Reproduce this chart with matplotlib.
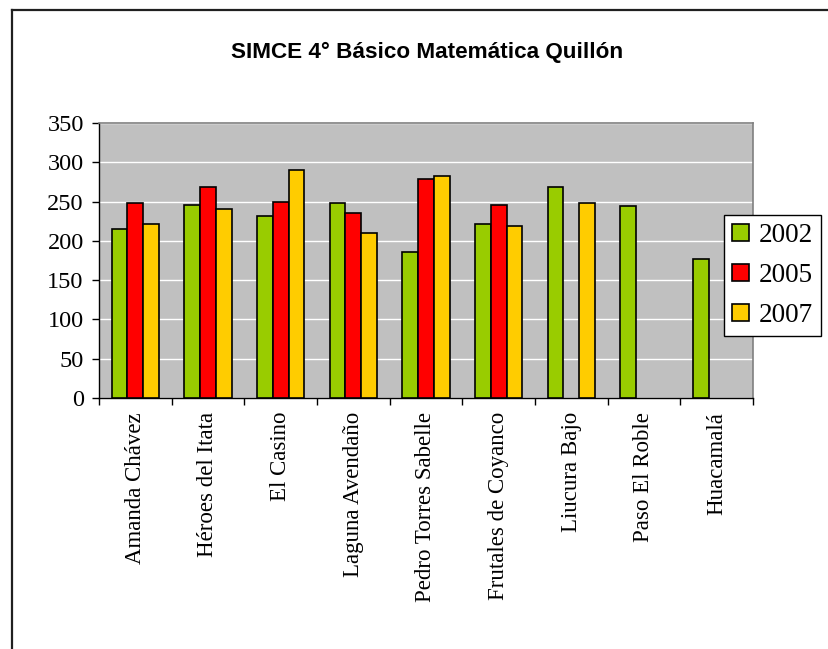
import numpy as np
import matplotlib
matplotlib.use("Agg")
import matplotlib.pyplot as plt
from matplotlib.lines import Line2D

# Data
schools = ["Amanda Chávez", "Héroes del Itata", "El Casino", "Laguna Avendaño",
           "Pedro Torres Sabelle", "Frutales de Coyanco", "Liucura Bajo",
           "Paso El Roble", "Huacamalá"]
years = ["2002", "2005", "2007"]
v2002 = [215, 246, 232, 248, 186, 221, 268, 244, 177]
v2005 = [248, 268, 250, 235, 279, 246, np.nan, np.nan, np.nan]
v2007 = [221, 240, 290, 210, 282, 219, 248, np.nan, np.nan]
yticks = [0, 50, 100, 150, 200, 250, 300, 350]

colors = ["#99CC00", "#FF0000", "#FFCC00"]

W, H = 829, 649
fig = plt.figure(figsize=(W / 100, H / 100), dpi=100)

# chart border: only left and top edges are visible in the crop
fig.lines.append(Line2D([12 / W, 12 / W], [0, 1 - 10 / H], transform=fig.transFigure,
                        color="#202020", linewidth=1.6))
fig.lines.append(Line2D([12 / W, 1], [1 - 10 / H, 1 - 10 / H], transform=fig.transFigure,
                        color="#202020", linewidth=1.6))

left, right, top, bottom = 99, 753, 123, 398
ax = fig.add_axes([left / W, 1 - bottom / H, (right - left) / W, (bottom - top) / H])
ax.set_facecolor("#C0C0C0")

x = np.arange(len(schools))
bw = 0.217
for i, (vals, c, yr) in enumerate(zip([v2002, v2005, v2007], colors, years)):
    ax.bar(x + (i - 1) * bw, vals, width=bw, color=c, edgecolor="black",
           linewidth=1.2, label=yr, zorder=3)

ax.set_xlim(-0.5, len(schools) - 0.5)
ax.set_ylim(0, 350)
ax.set_yticks(yticks)
ax.yaxis.grid(True, color="white", linewidth=1.0, zorder=1)
ax.set_axisbelow(True)

serif = ["Liberation Serif", "DejaVu Serif"]
ax.set_yticklabels([str(t) for t in yticks], fontsize=17.5, family=serif)
ax.tick_params(axis="y", length=5, width=1, pad=6)

# category labels (rotated), tick marks at category boundaries
ax.set_xticks(x)
ax.set_xticklabels(schools, rotation=90, fontsize=16.5, family=serif)
ax.tick_params(axis="x", length=0, pad=10)
ax.set_xticks(np.arange(len(schools) + 1) - 0.5, minor=True)
ax.tick_params(axis="x", which="minor", length=5, width=1)

for s in ["top", "right"]:
    ax.spines[s].set_color("#808080")
    ax.spines[s].set_linewidth(1.2)
for s in ["left", "bottom"]:
    ax.spines[s].set_color("black")
    ax.spines[s].set_linewidth(1.0)

fig.text(427 / W, 1 - 52 / H, "SIMCE 4° Básico Matemática Quillón",
         ha="center", va="center", fontsize=16.2, fontweight="bold",
         family=["Liberation Sans", "DejaVu Sans"])

leg = fig.legend(loc="upper left", bbox_to_anchor=(724 / W, 1 - 215 / H),
                 prop={"family": serif, "size": 19.5}, frameon=True,
                 fancybox=False, edgecolor="black", framealpha=1,
                 handlelength=0.63, handleheight=0.63, handletextpad=0.35,
                 borderpad=0.3, labelspacing=0.55, borderaxespad=0)
leg.get_frame().set_linewidth(1.0)

fig.savefig("out.png", dpi=100)
